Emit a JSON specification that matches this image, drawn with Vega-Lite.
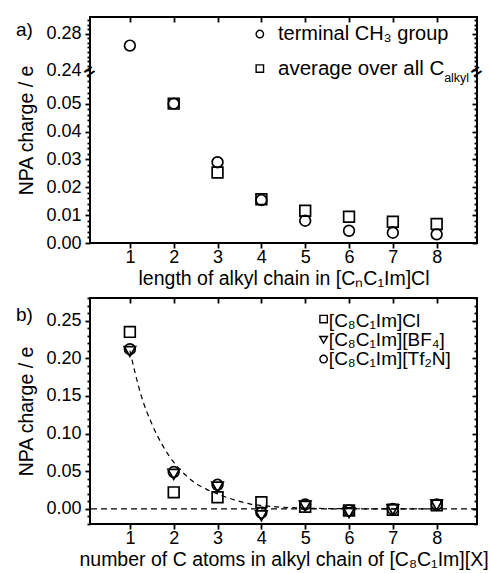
{
  "$schema": "https://vega.github.io/schema/vega-lite/v6.json",
  "padding": {"left": 14, "top": 15, "right": 5, "bottom": 5},
  "background": "white",
  "spacing": 7,
  "config": {
    "font": "Liberation Sans",
    "view": {"stroke": "black", "strokeWidth": 2},
    "axis": {"grid": false, "domain": false, "ticks": true, "tickOpacity": 1, "tickColor": "black", "tickWidth": 1.8, "labelColor": "black", "titleColor": "black", "labelFont": "Liberation Sans", "titleFont": "Liberation Sans", "labelFontSize": 18, "titleFontSize": 19.5, "titleFontWeight": "normal", "labelOverlap": false, "labelFlush": false},
    "text": {"font": "Liberation Sans", "color": "black"},
    "point": {"filled": false, "color": "black", "opacity": 1, "strokeWidth": 1.7, "size": 115}
  },
  "datasets": {
    "top": [
      {"n": 1, "charge": 0.267, "series": "terminal"},
      {"n": 2, "charge": 0.050, "series": "terminal"},
      {"n": 3, "charge": 0.029, "series": "terminal"},
      {"n": 4, "charge": 0.0154, "series": "terminal"},
      {"n": 5, "charge": 0.0080, "series": "terminal"},
      {"n": 6, "charge": 0.0044, "series": "terminal"},
      {"n": 7, "charge": 0.0037, "series": "terminal"},
      {"n": 8, "charge": 0.0031, "series": "terminal"},
      {"n": 2, "charge": 0.050, "series": "average"},
      {"n": 3, "charge": 0.0253, "series": "average"},
      {"n": 4, "charge": 0.0157, "series": "average"},
      {"n": 5, "charge": 0.0116, "series": "average"},
      {"n": 6, "charge": 0.0094, "series": "average"},
      {"n": 7, "charge": 0.0076, "series": "average"},
      {"n": 8, "charge": 0.0068, "series": "average"}
    ],
    "bottom": [
      {"n": 1, "charge": 0.235, "salt": "Cl"},
      {"n": 2, "charge": 0.022, "salt": "Cl"},
      {"n": 3, "charge": 0.0155, "salt": "Cl"},
      {"n": 4, "charge": 0.009, "salt": "Cl"},
      {"n": 5, "charge": 0.003, "salt": "Cl"},
      {"n": 6, "charge": -0.002, "salt": "Cl"},
      {"n": 7, "charge": -0.001, "salt": "Cl"},
      {"n": 8, "charge": 0.005, "salt": "Cl"},
      {"n": 1, "charge": 0.209, "salt": "BF4"},
      {"n": 2, "charge": 0.046, "salt": "BF4"},
      {"n": 3, "charge": 0.029, "salt": "BF4"},
      {"n": 4, "charge": -0.009, "salt": "BF4"},
      {"n": 5, "charge": 0.004, "salt": "BF4"},
      {"n": 6, "charge": -0.005, "salt": "BF4"},
      {"n": 7, "charge": -0.001, "salt": "BF4"},
      {"n": 8, "charge": 0.005, "salt": "BF4"},
      {"n": 1, "charge": 0.212, "salt": "Tf2N"},
      {"n": 2, "charge": 0.049, "salt": "Tf2N"},
      {"n": 3, "charge": 0.032, "salt": "Tf2N"},
      {"n": 4, "charge": -0.005, "salt": "Tf2N"},
      {"n": 5, "charge": 0.006, "salt": "Tf2N"},
      {"n": 6, "charge": -0.002, "salt": "Tf2N"},
      {"n": 7, "charge": 0.000, "salt": "Tf2N"},
      {"n": 8, "charge": 0.006, "salt": "Tf2N"}
    ],
    "fit": [
      {"x": 1.0, "y": 0.210}, {"x": 1.25, "y": 0.152}, {"x": 1.5, "y": 0.113}, {"x": 1.75, "y": 0.084},
      {"x": 2.0, "y": 0.062}, {"x": 2.25, "y": 0.046}, {"x": 2.5, "y": 0.034}, {"x": 2.75, "y": 0.026},
      {"x": 3.0, "y": 0.020}, {"x": 3.25, "y": 0.0145}, {"x": 3.5, "y": 0.010}, {"x": 3.75, "y": 0.0065},
      {"x": 4.0, "y": 0.0045}, {"x": 4.5, "y": 0.0022}, {"x": 5.0, "y": 0.0011}, {"x": 6.0, "y": 0.0003},
      {"x": 7.0, "y": 0.0001}, {"x": 8.0, "y": 0.0}
    ]
  },
  "vconcat": [
    {
      "width": 387, "height": 226,
      "data": {"name": "top"},
      "resolve": {"axis": {"x": "independent", "y": "independent"}},
      "layer": [
        {
          "transform": [{"filter": "datum.series === 'terminal'"}],
          "mark": {"type": "point", "shape": "circle"},
          "encoding": {
            "x": {"field": "n", "type": "quantitative", "scale": {"domain": [0.09, 8.92], "nice": false, "zero": false},
                  "axis": {"orient": "bottom", "values": [1,2,3,4,5,6,7,8], "format": "d", "ticks": true, "tickSize": 5, "labelPadding": 0, "title": "length of alkyl chain in [CₙC₁Im]Cl", "titlePadding": 3}},
            "y": {"field": "charge", "type": "quantitative", "scale": {"domain": [0, 0.061, 0.238, 0.2984], "range": [226, 56, 55, 0], "nice": false, "zero": false},
                  "axis": {"orient": "left", "values": [0, 0.01, 0.02, 0.03, 0.04, 0.05, 0.24, 0.28], "format": ".2f", "ticks": true, "tickSize": 5, "labelPadding": 4, "title": "NPA charge / e", "titlePadding": 9}}
          }
        },
        {
          "transform": [{"filter": "datum.series === 'average'"}],
          "mark": {"type": "point", "shape": "square"},
          "encoding": {
            "x": {"field": "n", "type": "quantitative", "axis": null},
            "y": {"field": "charge", "type": "quantitative", "axis": null}
          }
        },
        {
          "mark": {"type": "point", "opacity": 0},
          "encoding": {
            "x": {"field": "n", "type": "quantitative",
                  "axis": {"orient": "top", "values": [1,2,3,4,5,6,7,8], "ticks": true, "tickSize": -5, "labels": false, "title": null}},
            "y": {"field": "charge", "type": "quantitative",
                  "axis": {"orient": "left", "values": [0.002,0.004,0.006,0.008,0.012,0.014,0.016,0.018,0.022,0.024,0.026,0.028,0.032,0.034,0.036,0.038,0.042,0.044,0.046,0.048,0.052,0.054,0.056,0.058,0.06,0.245,0.25,0.255,0.26,0.265,0.27,0.275,0.285,0.29,0.295], "ticks": true, "tickSize": 3, "labels": false, "title": null}}
          }
        },
        {
          "mark": {"type": "point", "opacity": 0},
          "encoding": {
            "x": {"field": "n", "type": "quantitative", "axis": null},
            "y": {"field": "charge", "type": "quantitative",
                  "axis": {"orient": "right", "values": [0, 0.01, 0.02, 0.03, 0.04, 0.05, 0.24, 0.28], "ticks": true, "tickSize": -5, "labels": false, "title": null}}
          }
        },
        {
          "mark": {"type": "point", "opacity": 0},
          "encoding": {
            "x": {"field": "n", "type": "quantitative", "axis": null},
            "y": {"field": "charge", "type": "quantitative",
                  "axis": {"orient": "right", "values": [0.002,0.004,0.006,0.008,0.012,0.014,0.016,0.018,0.022,0.024,0.026,0.028,0.032,0.034,0.036,0.038,0.042,0.044,0.046,0.048,0.052,0.054,0.056,0.058,0.06,0.245,0.25,0.255,0.26,0.265,0.27,0.275,0.285,0.29,0.295], "ticks": true, "tickSize": -3, "labels": false, "title": null}}
          }
        },
        {
          "data": {"values": [{}]},
          "mark": {"type": "point", "shape": "circle", "size": 55, "strokeWidth": 1.4},
          "encoding": {
            "x": {"datum": 3.965, "type": "quantitative", "axis": null},
            "y": {"datum": 0.2797, "type": "quantitative", "axis": null}
          }
        },
        {
          "data": {"values": [{}]},
          "mark": {"type": "point", "shape": "square", "size": 55, "strokeWidth": 1.4},
          "encoding": {
            "x": {"datum": 3.965, "type": "quantitative", "axis": null},
            "y": {"datum": 0.2418, "type": "quantitative", "axis": null}
          }
        },
        {
          "data": {"values": [{}]},
          "mark": {"type": "text", "text": "terminal CH₃ group", "align": "left", "baseline": "middle", "fontSize": 20},
          "encoding": {
            "x": {"datum": 4.38, "type": "quantitative", "axis": null},
            "y": {"datum": 0.2797, "type": "quantitative", "axis": null}
          }
        },
        {
          "data": {"values": [{}]},
          "mark": {"type": "text", "text": "average over all C", "align": "left", "baseline": "middle", "fontSize": 20.5},
          "encoding": {
            "x": {"datum": 4.38, "type": "quantitative", "axis": null},
            "y": {"datum": 0.2418, "type": "quantitative", "axis": null}
          }
        },
        {
          "data": {"values": [{}]},
          "mark": {"type": "text", "text": "alkyl", "align": "left", "baseline": "middle", "fontSize": 12.5, "dy": 9},
          "encoding": {
            "x": {"datum": 8.17, "type": "quantitative", "axis": null},
            "y": {"datum": 0.2418, "type": "quantitative", "axis": null}
          }
        },
        {
          "data": {"values": [{"side": 0.09}, {"side": 8.92}]},
          "mark": {"type": "text", "text": "=", "align": "center", "baseline": "middle", "fontSize": 18, "fontWeight": "bold", "angle": -35},
          "encoding": {
            "x": {"field": "side", "type": "quantitative", "axis": null},
            "y": {"datum": 0.15, "type": "quantitative", "axis": null}
          }
        },
        {
          "data": {"values": [{}]},
          "mark": {"type": "text", "text": "a)", "align": "left", "baseline": "middle", "fontSize": 19},
          "encoding": {
            "x": {"datum": -1.6, "type": "quantitative", "axis": null},
            "y": {"datum": 0.2843, "type": "quantitative", "axis": null}
          }
        }
      ]
    },
    {
      "width": 387, "height": 226,
      "data": {"name": "bottom"},
      "resolve": {"axis": {"x": "independent", "y": "independent"}},
      "layer": [
        {
          "transform": [{"filter": "datum.salt === 'Cl'"}],
          "mark": {"type": "point", "shape": "square"},
          "encoding": {
            "x": {"field": "n", "type": "quantitative", "scale": {"domain": [0.09, 8.92], "nice": false, "zero": false},
                  "axis": {"orient": "bottom", "values": [1,2,3,4,5,6,7,8], "format": "d", "ticks": true, "tickSize": 5, "labelPadding": 0, "title": "number of C atoms in alkyl chain of [C₈C₁Im][X]", "titlePadding": 3}},
            "y": {"field": "charge", "type": "quantitative", "scale": {"domain": [-0.02, 0.28], "nice": false, "zero": false},
                  "axis": {"orient": "left", "values": [0, 0.05, 0.1, 0.15, 0.2, 0.25], "format": ".2f", "ticks": true, "tickSize": 5, "labelPadding": 4, "title": "NPA charge / e", "titlePadding": 9}}
          }
        },
        {
          "transform": [{"filter": "datum.salt === 'BF4'"}],
          "mark": {"type": "point", "shape": "triangle-down", "size": 130},
          "encoding": {
            "x": {"field": "n", "type": "quantitative", "axis": null},
            "y": {"field": "charge", "type": "quantitative", "axis": null}
          }
        },
        {
          "transform": [{"filter": "datum.salt === 'Tf2N'"}],
          "mark": {"type": "point", "shape": "circle"},
          "encoding": {
            "x": {"field": "n", "type": "quantitative", "axis": null},
            "y": {"field": "charge", "type": "quantitative", "axis": null}
          }
        },
        {
          "data": {"name": "fit"},
          "mark": {"type": "line", "interpolate": "monotone", "strokeDash": [5, 4], "strokeWidth": 1.2, "color": "black"},
          "encoding": {
            "x": {"field": "x", "type": "quantitative", "axis": null},
            "y": {"field": "y", "type": "quantitative", "axis": null}
          }
        },
        {
          "data": {"values": [{}]},
          "mark": {"type": "rule", "strokeDash": [6, 4], "strokeWidth": 1.2, "color": "black"},
          "encoding": {
            "y": {"datum": 0, "type": "quantitative", "axis": null}
          }
        },
        {
          "mark": {"type": "point", "opacity": 0},
          "encoding": {
            "x": {"field": "n", "type": "quantitative",
                  "axis": {"orient": "top", "values": [1,2,3,4,5,6,7,8], "ticks": true, "tickSize": -5, "labels": false, "title": null}},
            "y": {"field": "charge", "type": "quantitative",
                  "axis": {"orient": "left", "values": [-0.02,-0.01,0.01,0.02,0.03,0.04,0.06,0.07,0.08,0.09,0.11,0.12,0.13,0.14,0.16,0.17,0.18,0.19,0.21,0.22,0.23,0.24,0.26,0.27,0.28], "ticks": true, "tickSize": 3, "labels": false, "title": null}}
          }
        },
        {
          "mark": {"type": "point", "opacity": 0},
          "encoding": {
            "x": {"field": "n", "type": "quantitative", "axis": null},
            "y": {"field": "charge", "type": "quantitative",
                  "axis": {"orient": "right", "values": [0, 0.05, 0.1, 0.15, 0.2, 0.25], "ticks": true, "tickSize": -5, "labels": false, "title": null}}
          }
        },
        {
          "mark": {"type": "point", "opacity": 0},
          "encoding": {
            "x": {"field": "n", "type": "quantitative", "axis": null},
            "y": {"field": "charge", "type": "quantitative",
                  "axis": {"orient": "right", "values": [-0.02,-0.01,0.01,0.02,0.03,0.04,0.06,0.07,0.08,0.09,0.11,0.12,0.13,0.14,0.16,0.17,0.18,0.19,0.21,0.22,0.23,0.24,0.26,0.27,0.28], "ticks": true, "tickSize": -3, "labels": false, "title": null}}
          }
        },
        {
          "data": {"values": [{}]},
          "mark": {"type": "point", "shape": "square", "size": 55, "strokeWidth": 1.4},
          "encoding": {
            "x": {"datum": 5.42, "type": "quantitative", "axis": null},
            "y": {"datum": 0.252, "type": "quantitative", "axis": null}
          }
        },
        {
          "data": {"values": [{}]},
          "mark": {"type": "point", "shape": "triangle-down", "size": 60, "strokeWidth": 1.4},
          "encoding": {
            "x": {"datum": 5.42, "type": "quantitative", "axis": null},
            "y": {"datum": 0.2245, "type": "quantitative", "axis": null}
          }
        },
        {
          "data": {"values": [{}]},
          "mark": {"type": "point", "shape": "circle", "size": 55, "strokeWidth": 1.4},
          "encoding": {
            "x": {"datum": 5.42, "type": "quantitative", "axis": null},
            "y": {"datum": 0.199, "type": "quantitative", "axis": null}
          }
        },
        {
          "data": {"values": [{"label": "[C₈C₁Im]Cl", "yv": 0.2497}, {"label": "[C₈C₁Im][BF₄]", "yv": 0.2245}, {"label": "[C₈C₁Im][Tf₂N]", "yv": 0.199}]},
          "mark": {"type": "text", "align": "left", "baseline": "middle", "fontSize": 19},
          "encoding": {
            "x": {"datum": 5.54, "type": "quantitative", "axis": null},
            "y": {"field": "yv", "type": "quantitative", "axis": null},
            "text": {"field": "label"}
          }
        },
        {
          "data": {"values": [{}]},
          "mark": {"type": "text", "text": "b)", "align": "left", "baseline": "middle", "fontSize": 19},
          "encoding": {
            "x": {"datum": -1.6, "type": "quantitative", "axis": null},
            "y": {"datum": 0.258, "type": "quantitative", "axis": null}
          }
        }
      ]
    }
  ]
}
